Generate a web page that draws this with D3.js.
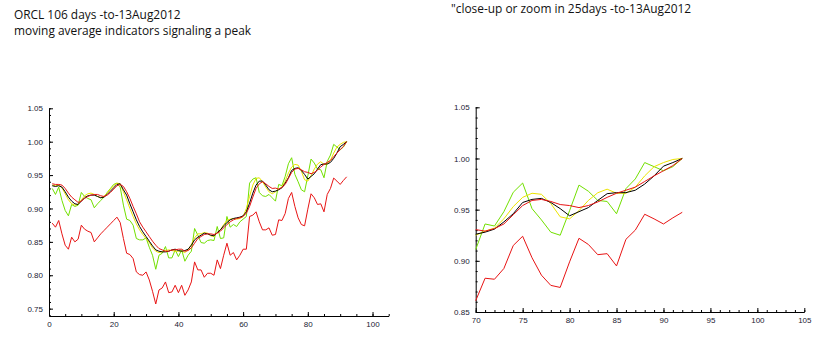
<!DOCTYPE html>
<html><head><meta charset="utf-8">
<script src="https://cdn.jsdelivr.net/npm/d3@7"></script>
<style>
body{margin:0;background:#fff;}
svg{display:block;}
.title{font-family:"Open Sans","Noto Sans",sans-serif;font-size:11.9px;fill:#111;}
.tick text{font-family:"Liberation Sans",Arial,sans-serif;font-size:8px;fill:#223;}
</style>
</head><body>
<script>
// ---- data (day index 1..92, values normalised to last close) ----
const days = d3.range(1, 93);
const green = [0.930,0.921,0.932,0.912,0.897,0.889,0.906,0.903,0.905,0.924,0.918,0.915,0.913,0.901,0.907,0.912,0.917,0.924,0.930,0.936,0.938,0.932,0.905,0.884,0.882,
0.875,0.855,0.853,0.853,0.856,0.842,0.830,0.809,0.830,0.833,0.843,0.826,0.826,0.838,0.828,0.838,0.821,0.830,0.836,0.870,0.860,
0.849,0.848,0.852,0.853,0.852,0.873,0.855,0.856,0.888,0.872,0.876,0.873,0.880,0.884,0.888,0.938,0.944,0.946,0.924,0.919,0.918,0.921,0.916,
0.911,0.936,0.934,0.948,0.967,0.976,0.951,0.940,0.928,0.925,0.949,0.974,0.968,0.959,0.958,0.946,0.9705,0.980,0.996,0.992,0.988,0.992,1.0];
const yellow = [0.935,0.934,0.935,0.931,0.922,0.913,0.907,0.905,0.906,0.913,0.919,0.922,0.923,0.921,0.918,0.916,0.918,0.923,0.929,0.934,0.938,
0.937,0.925,0.913,0.900,0.888,0.877,0.868,0.861,0.855,0.849,0.841,0.836,0.834,0.835,0.837,0.838,0.837,0.836,0.836,0.836,0.834,0.838,0.846,0.856,0.862,
0.862,0.864,0.863,0.859,0.858,0.864,0.868,0.876,0.882,0.884,0.885,0.884,0.885,
0.888,0.900,0.918,0.935,0.945,0.946,0.940,0.932,0.925,0.922,
0.925,0.929,0.932,0.941,0.953,0.962,0.966,0.965,0.956,0.943,0.941,0.949,0.959,0.9665,0.970,0.966,0.966,0.972,0.983,0.992,0.996,0.999,1.0];
const black = [0.934,0.933,0.934,0.932,0.925,0.917,0.911,0.907,0.906,0.911,0.916,0.919,0.920,0.920,0.918,0.916,0.917,0.921,0.926,0.931,0.936,
0.937,0.928,0.920,0.907,0.895,0.883,0.873,0.865,0.858,0.851,0.844,0.838,0.836,0.835,0.835,0.836,0.838,0.839,0.837,0.836,0.837,0.839,0.845,0.853,0.857,
0.860,0.863,0.862,0.860,0.859,0.864,0.868,0.874,0.879,0.883,0.885,0.886,0.887,
0.889,0.895,0.908,0.923,0.935,0.941,0.941,0.935,0.928,0.925,
0.926,0.928,0.931,0.938,0.946,0.957,0.960,0.961,0.957,0.951,0.944,0.948,0.952,0.959,0.9656,0.9666,0.9666,0.969,0.975,0.983,0.9925,0.996,1.0];
const redMA = [0.937,0.936,0.936,0.935,0.930,0.923,0.917,0.913,0.909,0.911,0.915,0.918,0.920,0.921,0.921,0.919,0.918,0.920,0.924,0.929,0.934,
0.936,0.933,0.925,0.915,0.903,0.892,0.880,0.872,0.865,0.858,0.851,0.845,0.840,0.838,0.836,0.836,0.838,0.838,0.839,0.839,0.836,0.837,0.841,0.848,0.855,
0.858,0.861,0.862,0.862,0.861,0.863,0.866,0.871,0.876,0.880,0.883,0.885,0.886,
0.888,0.893,0.903,0.917,0.930,0.937,0.940,0.937,0.933,0.930,
0.9305,0.929,0.9315,0.936,0.945,0.954,0.959,0.960,0.958,0.955,0.954,0.952,0.954,0.9575,0.962,0.966,0.969,0.972,0.9775,0.983,0.988,0.993,1.0];
const lowRed = [0.878,0.872,0.882,0.862,0.845,0.839,0.857,0.850,0.854,0.875,0.869,0.866,0.864,0.850,0.856,0.862,0.867,0.872,0.877,0.882,0.887,0.879,0.855,0.833,0.831,
0.825,0.805,0.801,0.800,0.805,0.793,0.776,0.757,0.778,0.781,0.790,0.774,0.775,0.785,0.774,0.785,0.770,0.778,0.790,0.820,0.808,0.808,0.797,0.803,0.803,
0.800,0.823,0.810,0.830,0.848,0.830,0.834,0.823,0.830,0.839,0.839,0.888,0.890,0.895,0.880,0.868,0.868,0.871,0.860,
0.861,0.883,0.882,0.8925,0.915,0.924,0.903,0.886,0.876,0.874,0.899,0.922,0.916,0.906,0.907,0.895,0.921,0.930,0.9455,0.941,0.936,0.942,0.9474];

const leftXTicks = [0,20,40,60,80,100];
const leftYTicks = [0.75,0.80,0.85,0.90,0.95,1.00,1.05];
const rightXTicks = [70,75,80,85,90,95,100,105];
const rightYTicks = [0.85,0.90,0.95,1.00,1.05];
const titleLeft = ["ORCL 106 days -to-13Aug2012","moving average indicators signaling a peak"];
const titleRight = "\"close-up or zoom in 25days -to-13Aug2012";

const seriesList = [
  {vals: lowRed, color: "#e81414"},
  {vals: green,  color: "#72e000"},
  {vals: yellow, color: "#ece400"},
  {vals: black,  color: "#000000"},
  {vals: redMA,  color: "#e81414"}
];

const svg = d3.select("body").append("svg").attr("width",832).attr("height",355);

svg.append("text").attr("class","title").attr("x",14).attr("y",19).text(titleLeft[0]);
svg.append("text").attr("class","title").attr("x",14).attr("y",35).text(titleLeft[1]);
svg.append("text").attr("class","title").attr("x",451).attr("y",12.5).text(titleRight);

function panel(cfg){
  const x = d3.scaleLinear().domain(cfg.xd).range(cfg.xr);
  const y = d3.scaleLinear().domain(cfg.yd).range(cfg.yr);
  const g = svg.append("g");
  const x0 = cfg.xr[0], yb = cfg.yr[0];
  // minor ticks
  g.append("g").attr("transform",`translate(0,${yb})`)
    .call(d3.axisBottom(x).tickValues(cfg.xMinor).tickSize(-2).tickFormat(""))
    .call(s=>s.select(".domain").remove());
  g.append("g").attr("transform",`translate(${x0},0)`)
    .call(d3.axisLeft(y).tickValues(cfg.yMinor).tickSize(-2).tickFormat(""))
    .call(s=>s.select(".domain").remove());
  // major axes
  g.append("g").attr("transform",`translate(0,${yb})`)
    .call(d3.axisBottom(x).tickValues(cfg.xTicks).tickSize(-4).tickPadding(5).tickSizeOuter(0).tickFormat(d3.format("d")));
  g.append("g").attr("transform",`translate(${x0},0)`)
    .call(d3.axisLeft(y).tickValues(cfg.yTicks).tickSize(-4).tickPadding(6).tickSizeOuter(0).tickFormat(d3.format(".2f")));
  g.selectAll(".domain").attr("stroke","#000");
  g.selectAll(".tick line").attr("stroke","#000");
  const line = d3.line().x(d=>x(d[0])).y(d=>y(d[1]));
  seriesList.forEach(s=>{
    const pts = days.map((d,i)=>[d, s.vals[i]]).filter(p=>p[0]>=cfg.xd[0]);
    g.append("path").datum(pts).attr("d",line)
      .attr("fill","none").attr("stroke",s.color).attr("stroke-width",1)
      .attr("stroke-linejoin","round");
  });
}

panel({xd:[0,105], xr:[49,388.7], yd:[0.739,1.05], yr:[316,108.3],
  xTicks:leftXTicks, yTicks:leftYTicks,
  xMinor:d3.range(0,106,5), yMinor:d3.range(74,106).map(v=>v/100)});
panel({xd:[70,105], xr:[475.7,804.3], yd:[0.85,1.05], yr:[312,107.3],
  xTicks:rightXTicks, yTicks:rightYTicks,
  xMinor:d3.range(70,106,1), yMinor:d3.range(85,106).map(v=>v/100)});
</script>
</body></html>
